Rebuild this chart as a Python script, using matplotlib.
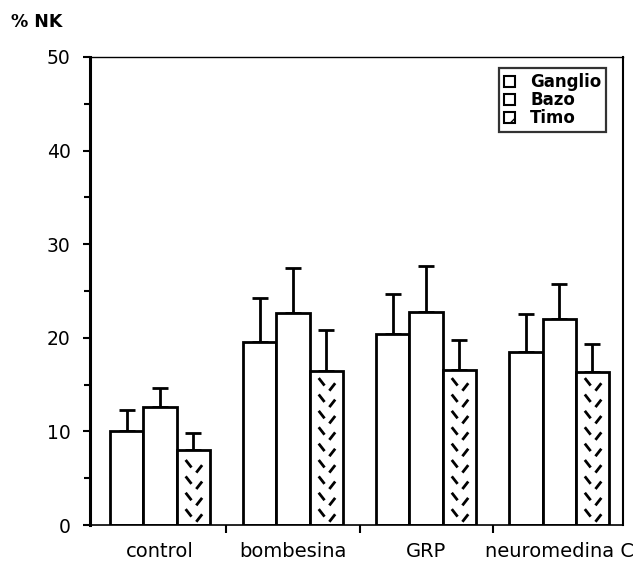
"""Recreate the %NK bar chart (Ganglio / Bazo / Timo by treatment)."""

import matplotlib

matplotlib.use("Agg")
import matplotlib.pyplot as plt
import numpy as np
from matplotlib.collections import LineCollection
from matplotlib.patches import Patch

plt.rcParams["font.family"] = ["DejaVu Sans"]

groups = ["control", "bombesina", "GRP", "neuromedina C"]
series = ["Ganglio", "Bazo", "Timo"]
ganglio = [10.0, 19.6, 20.4, 18.5]
ganglio_err = [2.3, 4.7, 4.3, 4.0]
bazo = [12.6, 22.6, 22.8, 22.0]
bazo_err = [2.0, 4.9, 4.9, 3.7]
timo = [8.0, 16.5, 16.6, 16.3]
timo_err = [1.8, 4.3, 3.2, 3.0]
yticks = [0, 10, 20, 30, 40, 50]


def herringbone(ax, rect):
    # short alternating dashes, "\" in the left column and "/" in the right one
    x0, w, h = rect.get_x(), rect.get_width(), rect.get_height()
    segs = []
    dx, dy, step = 0.022, 0.4, 1.75
    for col, (cx, start) in enumerate([(x0 + 0.36 * w, 1.3), (x0 + 0.68 * w, 0.75)]):
        y = start
        while y + dy < h - 0.3:
            if col == 0:
                segs.append([(cx - dx, y + dy), (cx + dx, y - dy)])
            else:
                segs.append([(cx - dx, y - dy), (cx + dx, y + dy)])
            y += step
    ax.add_collection(LineCollection(segs, colors="black", linewidths=2.0, zorder=3))


fig = plt.figure(figsize=(6.38, 5.67), dpi=100)
ax = fig.add_axes([0.141, 0.074, 0.8355, 0.8255])

x = np.arange(len(groups))
width = 0.25
for k, (vals, errs) in enumerate([(ganglio, ganglio_err), (bazo, bazo_err), (timo, timo_err)]):
    pos = x + (k - 1) * width
    bars = ax.bar(pos, vals, width, color="white", edgecolor="black", linewidth=2.0, zorder=2)
    ax.errorbar(pos, vals, yerr=[np.zeros(len(errs)), errs], fmt="none", ecolor="black",
                elinewidth=2.0, capsize=6, capthick=2.0, zorder=1)
    if k == 2:
        for rect in bars:
            herringbone(ax, rect)

ax.set_xlim(-0.526, 3.48)
ax.set_ylim(0, 50)
ax.set_yticks(yticks)
ax.set_yticks(np.arange(5, 50, 10), minor=True)
ax.tick_params(axis="y", which="major", direction="out", length=5, width=1.5, labelsize=13.5, pad=9)
ax.tick_params(axis="y", which="minor", direction="out", length=4, width=1.5)
ax.set_xticks(x)
ax.set_xticklabels(groups)
ax.set_xticks([0.5, 1.5, 2.5], minor=True)
ax.tick_params(axis="x", which="major", length=0, labelsize=14, pad=12)
ax.tick_params(axis="x", which="minor", direction="out", length=6, width=1.5)

ax.spines["left"].set_linewidth(2.2)
ax.spines["top"].set_linewidth(1.0)
ax.spines["right"].set_linewidth(1.5)
ax.spines["bottom"].set_linewidth(1.2)

fig.text(0.018, 0.962, "% NK", fontsize=12.5, fontweight="bold", va="center")

handles = [
    Patch(facecolor="white", edgecolor="black", linewidth=1.5, label="Ganglio"),
    Patch(facecolor="white", edgecolor="black", linewidth=1.5, label="Bazo"),
    Patch(facecolor="white", edgecolor="black", linewidth=1.5, hatch="//", label="Timo"),
]
leg = ax.legend(handles=handles, loc="upper right", bbox_to_anchor=(0.969, 0.976),
                frameon=True, fancybox=False, handlelength=0.65, handleheight=0.65,
                handletextpad=0.9, labelspacing=0.0, borderpad=0.3, borderaxespad=0,
                prop={"size": 12, "weight": "bold"})
leg.get_frame().set_edgecolor("black")
leg.get_frame().set_linewidth(1.6)

fig.savefig("out.png", dpi=100)
